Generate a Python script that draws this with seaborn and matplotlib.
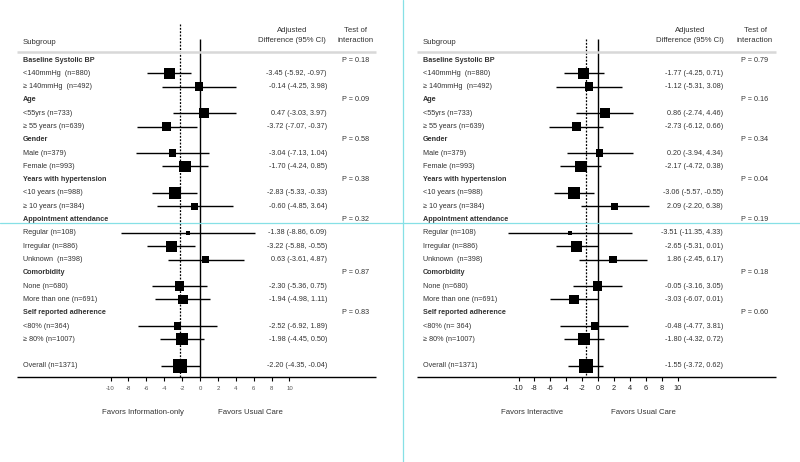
import numpy as np
import pandas as pd
import seaborn as sns
import matplotlib.pyplot as plt
from matplotlib.lines import Line2D

sns.set_theme(style="white")
plt.rcParams['font.family'] = ['Liberation Sans', 'DejaVu Sans']

# ---------------------------------------------------------
# data
# ---------------------------------------------------------
groups = ["Baseline Systolic BP", "Age", "Gender", "Years with hypertension",
          "Appointment attendance", "Comorbidity", "Self reported adherence"]

sub_labels_left = [
    ["<140mmHg  (n=880)", "\u2265 140mmHg  (n=492)"],
    ["<55yrs (n=733)", "\u2265 55 years (n=639)"],
    ["Male (n=379)", "Female (n=993)"],
    ["<10 years (n=988)", "\u2265 10 years (n=384)"],
    ["Regular (n=108)", "Irregular (n=886)", "Unknown  (n=398)"],
    ["None (n=680)", "More than one (n=691)"],
    ["<80% (n=364)", "\u2265 80% (n=1007)"],
]
sub_labels_right = [
    ["<140mmHg  (n=880)", "\u2265 140mmHg  (n=492)"],
    ["<55yrs (n=733)", "\u2265 55 years (n=639)"],
    ["Male (n=379)", "Female (n=993)"],
    ["<10 years (n=988)", "\u2265 10 years (n=384)"],
    ["Regular (n=108)", "Irregular (n=886)", "Unknown  (n=398)"],
    ["None (n=680)", "More than one (n=691)"],
    ["<80% (n= 364)", "\u2265 80% (n=1007)"],
]
sub_n = [[880, 492], [733, 639], [379, 993], [988, 384], [108, 886, 398], [680, 691], [364, 1007]]
overall_label = "Overall (n=1371)"
overall_n = 1371

# Information-only vs usual care
left_est = [-3.45, -0.14, 0.47, -3.72, -3.04, -1.70, -2.83, -0.60, -1.38, -3.22, 0.63, -2.30, -1.94, -2.52, -1.98]
left_lo = [-5.92, -4.25, -3.03, -7.07, -7.13, -4.24, -5.33, -4.85, -8.86, -5.88, -3.61, -5.36, -4.98, -6.92, -4.45]
left_hi = [-0.97, 3.98, 3.97, -0.37, 1.04, 0.85, -0.33, 3.64, 6.09, -0.55, 4.87, 0.75, 1.11, 1.89, 0.50]
left_overall = (-2.20, -4.35, -0.04)
left_p = ["0.18", "0.09", "0.58", "0.38", "0.32", "0.87", "0.83"]

# Interactive vs usual care
right_est = [-1.77, -1.12, 0.86, -2.73, 0.20, -2.17, -3.06, 2.09, -3.51, -2.65, 1.86, -0.05, -3.03, -0.48, -1.80]
right_lo = [-4.25, -5.31, -2.74, -6.12, -3.94, -4.72, -5.57, -2.20, -11.35, -5.31, -2.45, -3.16, -6.07, -4.77, -4.32]
right_hi = [0.71, 3.08, 4.46, 0.66, 4.34, 0.38, -0.55, 6.38, 4.33, 0.01, 6.17, 3.05, 0.01, 3.81, 0.72]
right_overall = (-1.55, -3.72, 0.62)
right_p = ["0.79", "0.16", "0.34", "0.04", "0.19", "0.18", "0.60"]

tick_vals = list(range(-10, 11, 2))


def build_table(sub_labels, est, lo, hi, overall):
    rows = []
    i = 0
    k = 0
    for g, labs, ns in zip(groups, sub_labels, sub_n):
        rows.append(dict(label=g, row=i, header=True, est=np.nan, lo=np.nan, hi=np.nan, n=np.nan))
        i += 1
        for lab, n in zip(labs, ns):
            rows.append(dict(label=lab, row=i, header=False, est=est[k], lo=lo[k], hi=hi[k], n=n))
            i += 1
            k += 1
    i += 1
    rows.append(dict(label=overall_label, row=i, header=False, est=overall[0],
                     lo=overall[1], hi=overall[2], n=overall_n))
    return pd.DataFrame(rows)


# pixel layout helpers (figure is 800x462 px)
ROW0, ROWH = 60.0, 13.3
def py(px):
    return (px - ROW0) / ROWH


fig = plt.figure(figsize=(8, 4.62), dpi=100)

panels = [
    dict(left=0, zero=200.0, unit=8.95, sub=sub_labels_left, est=left_est, lo=left_lo, hi=left_hi,
         overall=left_overall, p=left_p, dash_top=24, ci_x=327, p_x=369, col1=292, col2=356,
         fav=("Favors Information-only", 143, "Favors Usual Care", 250), tick_fs=4.3, tick_col='#555555'),
    dict(left=400, zero=598.0, unit=7.95, sub=sub_labels_right, est=right_est, lo=right_lo, hi=right_hi,
         overall=right_overall, p=right_p, dash_top=39, ci_x=723, p_x=768, col1=690, col2=755,
         fav=("Favors Interactive", 532, "Favors Usual Care", 643), tick_fs=5.3, tick_col='#222222'),
]

txt_col = '#333333'
fs = 5.2
hfs = 5.6

for P in panels:
    ax = fig.add_axes([P['left'] / 800, 0, 0.5, 1])
    def dx(px, P=P):
        return (px - P['zero']) / P['unit']
    ax.set_xlim(dx(P['left']), dx(P['left'] + 400))
    ax.set_ylim(py(462), py(0))
    ax.axis('off')

    df = build_table(P['sub'], P['est'], P['lo'], P['hi'], P['overall'])
    data = df[~df.header]

    # confidence intervals
    ax.hlines(data['row'], data['lo'], data['hi'], color='black', lw=1.0, zorder=2)
    # point estimates, square area proportional to n
    k = 0.072
    sns.scatterplot(data=data, x='est', y='row', size='n', sizes=(k * 108, k * 1371),
                    size_norm=(108, 1371), marker='s', color='black', edgecolor='black',
                    linewidth=0, legend=False, ax=ax, zorder=3)

    # reference lines
    ax.vlines(0, py(39), py(377), color='black', lw=1.0, zorder=1)
    ax.vlines(P['overall'][0], py(P['dash_top']), py(377), color='black', lw=0.9,
              linestyles=(0, (1.5, 1.2)), zorder=1)

    # header rule and bottom axis
    ax.hlines(py(51.5), dx(P['left'] + 17), dx(P['left'] + 376), color='#d8d8d8', lw=1.8)
    ax.hlines(py(377), dx(P['left'] + 17), dx(P['left'] + 376), color='black', lw=1.0)
    ax.vlines(tick_vals, py(377), py(381), color='black', lw=0.8)
    for t in tick_vals:
        ax.text(t, py(388), str(t), ha='center', va='center', fontsize=P['tick_fs'], color=P['tick_col'])

    # column headers
    ax.text(dx(P['left'] + 23), py(43), "Subgroup", ha='left', va='center', fontsize=hfs, color=txt_col)
    ax.text(dx(P['col1']), py(31), "Adjusted", ha='center', va='center', fontsize=hfs, color=txt_col)
    ax.text(dx(P['col1']), py(41), "Difference (95% CI)", ha='center', va='center', fontsize=hfs, color=txt_col)
    ax.text(dx(P['col2']), py(31), "Test of", ha='center', va='center', fontsize=hfs, color=txt_col)
    ax.text(dx(P['col2']), py(41), "interaction", ha='center', va='center', fontsize=hfs, color=txt_col)

    # row text
    gi = 0
    for _, r in df.iterrows():
        if r['header']:
            ax.text(dx(P['left'] + 23), r['row'], r['label'], ha='left', va='center',
                    fontsize=fs, fontweight='bold', color=txt_col)
            ax.text(dx(P['p_x']), r['row'], "P = " + P['p'][gi], ha='right', va='center',
                    fontsize=fs, color=txt_col)
            gi += 1
        else:
            ax.text(dx(P['left'] + 23), r['row'], r['label'], ha='left', va='center',
                    fontsize=fs, color=txt_col)
            ax.text(dx(P['ci_x']), r['row'],
                    f"{r['est']:.2f} ({r['lo']:.2f}, {r['hi']:.2f})",
                    ha='right', va='center', fontsize=fs, color=txt_col)

    f1, x1, f2, x2 = P['fav']
    ax.text(dx(x1), py(413), f1, ha='center', va='center', fontsize=5.6, color=txt_col)
    ax.text(dx(x2), py(413), f2, ha='center', va='center', fontsize=5.6, color=txt_col)

# light cyan guide lines
fig.add_artist(Line2D([403 / 800, 403 / 800], [0, 1], color='#86e0e6', lw=0.9))
fig.add_artist(Line2D([0, 1], [1 - 222.5 / 462, 1 - 222.5 / 462], color='#86e0e6', lw=0.9))

fig.savefig("out.png", dpi=100, facecolor='white')
